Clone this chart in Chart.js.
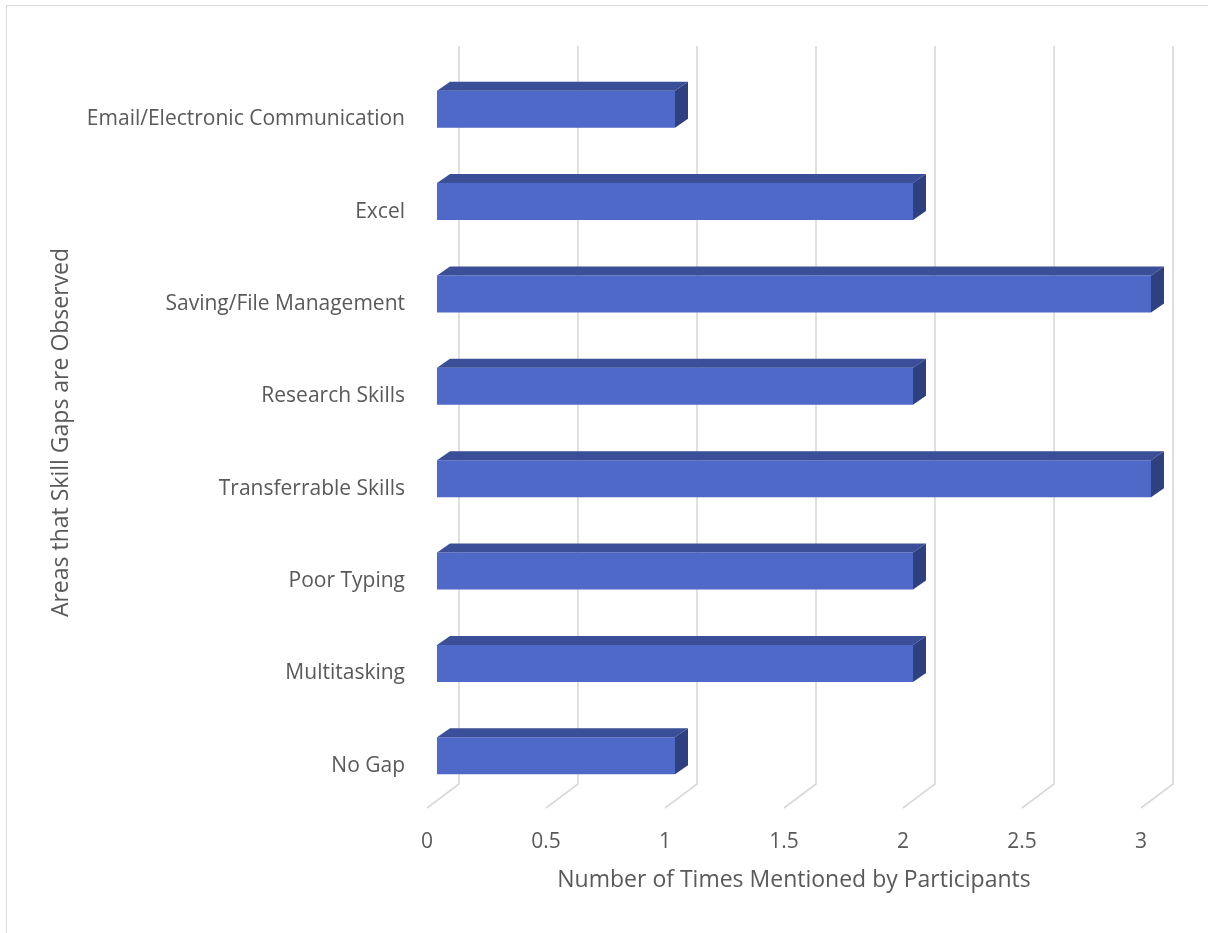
<!DOCTYPE html>
<html>
<head>
<meta charset="utf-8">
<script src="https://cdn.jsdelivr.net/npm/chart.js@4/dist/chart.umd.min.js"></script>
<style>
  html, body { margin: 0; padding: 0; background: #fff; overflow: hidden; }
  #marco { position: absolute; left: 6px; top: 5px; width: 1400px; height: 1100px;
           border: 1.5px solid #d9d9d9; box-sizing: border-box; }
  #caja { position: absolute; left: 0; top: 0; width: 1208px; height: 933px; }
</style>
</head>
<body>
<div id="marco"></div>
<div id="caja"><canvas id="miGrafica"></canvas></div>
<script>
// Datos de la gráfica
const areas = [
  'Email/Electronic Communication',
  'Excel',
  'Saving/File Management',
  'Research Skills',
  'Transferrable Skills',
  'Poor Typing',
  'Multitasking',
  'No Gap'
];
const menciones = [1, 2, 3, 2, 3, 2, 2, 1];
const ticksEjeX = [0, 0.5, 1, 1.5, 2, 2.5, 3];

const tituloEjeX = 'Number of Times Mentioned by Participants';
const tituloEjeY = 'Areas that Skill Gaps are Observed';

const colorFrente = '#4e69c8';
const colorArriba = '#3a4f98';
const colorLado = '#2f4080';
const colorRejilla = '#d9d9d9';
const colorTexto = '#595959';
const fuente = "'Open Sans', 'DejaVu Sans', sans-serif";

// profundidad de las barras (efecto 3D)
const prof = { dx: 13, dy: -9 };

// Rejilla en perspectiva: pared del fondo + línea del suelo
const rejilla3D = {
  id: 'rejilla3D',
  beforeDatasetsDraw(chart) {
    const { ctx, chartArea, scales } = chart;
    const x = scales.x;
    ctx.save();
    ctx.strokeStyle = colorRejilla;
    ctx.lineWidth = 1.6;
    ticksEjeX.forEach(v => {
      const px = x.getPixelForValue(v);
      ctx.beginPath();
      ctx.moveTo(px + 22, chartArea.top - 17);
      ctx.lineTo(px + 22, chartArea.bottom - 18);
      ctx.lineTo(px - 10, chartArea.bottom + 6);
      ctx.stroke();
    });
    ctx.restore();
  }
};

// Caras superior y lateral de cada barra
const barras3D = {
  id: 'barras3D',
  afterDatasetsDraw(chart) {
    const { ctx } = chart;
    const meta = chart.getDatasetMeta(0);
    ctx.save();
    meta.data.forEach(bar => {
      const { x, y, base, height } = bar.getProps(['x', 'y', 'base', 'height'], true);
      const arriba = y - height / 2;
      const abajo = y + height / 2;

      ctx.fillStyle = colorArriba;
      ctx.beginPath();
      ctx.moveTo(base, arriba);
      ctx.lineTo(base + prof.dx, arriba + prof.dy);
      ctx.lineTo(x + prof.dx, arriba + prof.dy);
      ctx.lineTo(x, arriba);
      ctx.closePath();
      ctx.fill();

      ctx.fillStyle = colorLado;
      ctx.beginPath();
      ctx.moveTo(x, arriba);
      ctx.lineTo(x + prof.dx, arriba + prof.dy);
      ctx.lineTo(x + prof.dx, abajo + prof.dy);
      ctx.lineTo(x, abajo);
      ctx.closePath();
      ctx.fill();
    });
    ctx.restore();
  }
};

const ctx = document.getElementById('miGrafica').getContext('2d');
new Chart(ctx, {
  type: 'bar',
  data: {
    labels: areas,
    datasets: [{
      data: menciones,
      backgroundColor: colorFrente,
      borderWidth: 0,
      barPercentage: 0.4,
      categoryPercentage: 1
    }]
  },
  options: {
    indexAxis: 'y',
    responsive: true,
    maintainAspectRatio: false,
    animation: false,
    layout: { padding: { top: 63, right: 57, bottom: 0, left: 0 } },
    plugins: { legend: { display: false }, tooltip: { enabled: false } },
    scales: {
      x: {
        min: 0,
        max: 3,
        afterBuildTicks(scale) {
          scale.ticks = ticksEjeX.map(v => ({ value: v }));
        },
        afterFit(scale) { scale.height = 933 - 802; },
        grid: { display: false, drawTicks: false },
        border: { display: false },
        ticks: {
          padding: 27,
          labelOffset: -10,
          color: colorTexto,
          font: { family: fuente, size: 21 },
          callback: v => String(v)
        },
        title: {
          display: true,
          text: tituloEjeX,
          color: colorTexto,
          font: { family: fuente, size: 23 },
          padding: { top: 0, bottom: 39 }
        }
      },
      y: {
        afterFit(scale) { scale.width = 437; },
        grid: { display: false, drawTicks: false },
        border: { display: false },
        ticks: {
          padding: 32,
          labelOffset: 10,
          color: colorTexto,
          font: { family: fuente, size: 21 }
        },
        title: {
          display: true,
          text: tituloEjeY,
          color: colorTexto,
          font: { family: fuente, size: 23 },
          padding: { top: 48, bottom: 0 }
        }
      }
    }
  },
  plugins: [rejilla3D, barras3D]
});
</script>
</body>
</html>
